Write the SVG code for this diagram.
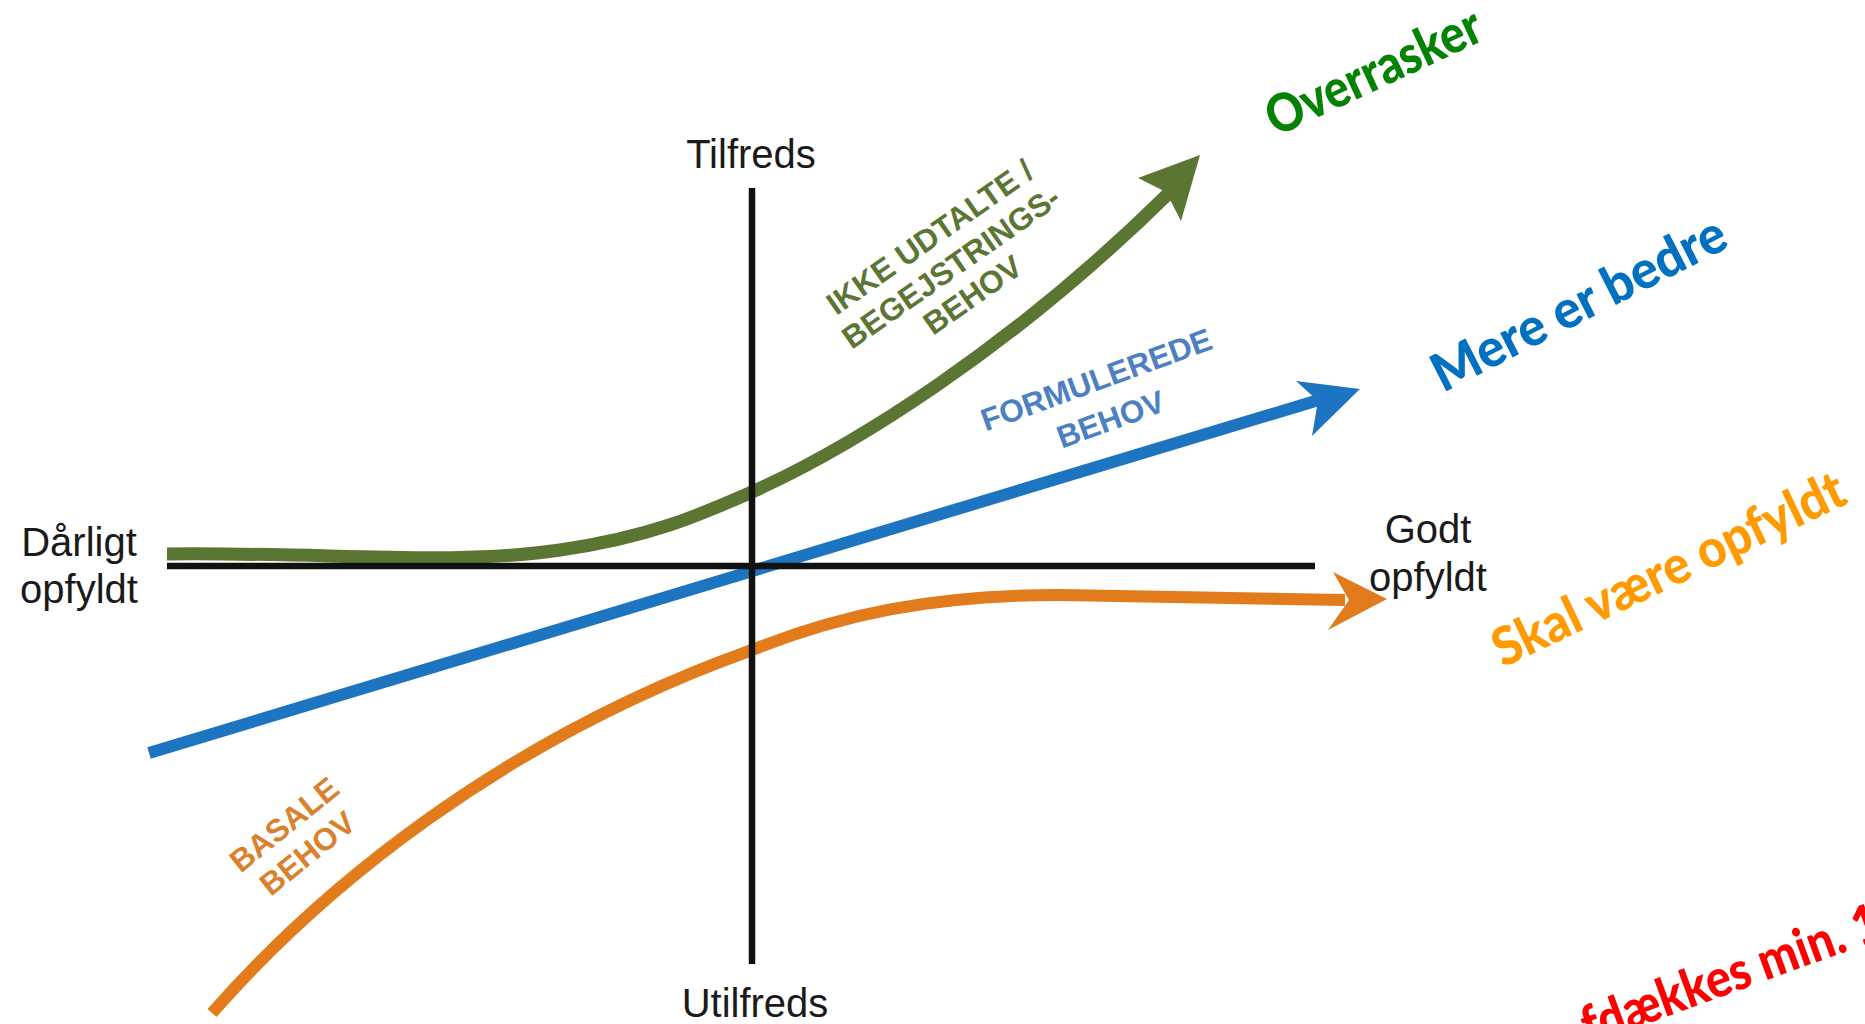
<svg xmlns="http://www.w3.org/2000/svg" width="1865" height="1024" viewBox="0 0 1865 1024">
<style>
.axis{stroke:#111;stroke-width:6.5;fill:none}
.curve{fill:none;stroke-linecap:butt}
.ax{font-family:"Liberation Sans",Arial,sans-serif;font-size:40px;fill:#1a1a1a;text-anchor:middle}
.cap{font-family:"Liberation Sans",Arial,sans-serif;font-weight:bold;font-size:31.5px;text-anchor:middle}
.big{font-family:Lato,"Open Sans",sans-serif;font-weight:900;font-size:53px}
</style>
<rect width="1865" height="1024" fill="#ffffff"/>
<g id="connectors">
  <path id="green-curve" class="curve" stroke="#5b7533" stroke-width="13" d="M167,554 C330,552 450,566 560,550 C650,537 700,515 752,492 C850,448 1010,350 1170,192"/>
  <polygon fill="#5b7533" points="1200,155 1138,178 1166,192 1181,221"/>
  <path id="blue-line" class="curve" stroke="#1d74c0" stroke-width="12" d="M149,753 L1322,399"/>
  <polygon fill="#1d74c0" points="1360,389 1296,381 1318,401 1312,436"/>
  <path id="orange-curve" class="curve" stroke="#e27b1c" stroke-width="12" d="M212,1013 C320,890 500,740 752,650 C840,615 930,595 1060,595 L1345,600"/>
  <polygon fill="#e27b1c" points="1387,599 1333,572 1349,600 1328,630"/>
</g>
<g id="axes">
  <line class="axis" x1="167" y1="566" x2="1315" y2="566"/>
  <line class="axis" x1="752" y1="188" x2="752" y2="964"/>
</g>
<g id="label-tilfreds"><text class="ax" x="751" y="168">Tilfreds</text></g>
<g id="label-utilfreds"><text class="ax" x="755" y="1017">Utilfreds</text></g>
<g id="label-daarligt"><text class="ax" x="79" y="556">Dårligt</text><text class="ax" x="79" y="603">opfyldt</text></g>
<g id="label-godt"><text class="ax" x="1428" y="543">Godt</text><text class="ax" x="1428" y="591">opfyldt</text></g>
<g id="label-ikke" transform="translate(936,246) rotate(-35)" fill="#5b7533">
  <text class="cap" x="0" y="0">IKKE UDTALTE /</text>
  <text class="cap" x="0" y="37">BEGEJSTRINGS-</text>
  <text class="cap" x="2" y="72">BEHOV</text>
</g>
<g id="label-formulerede" transform="translate(1100,390) rotate(-20)" fill="#4b80c3">
  <text class="cap" x="0" y="0">FORMULEREDE</text>
  <text class="cap" x="0" y="42">BEHOV</text>
</g>
<g id="label-basale" transform="translate(291,833) rotate(-39)" fill="#d9822e">
  <text class="cap" x="0" y="0">BASALE</text>
  <text class="cap" x="0" y="37">BEHOV</text>
</g>
<g id="note-overrasker"><text class="big" fill="#038203" transform="translate(1276,137) rotate(-25)" textLength="232" lengthAdjust="spacingAndGlyphs">Overrasker</text></g>
<g id="note-mere"><text class="big" fill="#0070c0" transform="translate(1443,393) rotate(-27)" textLength="323" lengthAdjust="spacingAndGlyphs">Mere er bedre</text></g>
<g id="note-skal"><text class="big" fill="#ff9a00" transform="translate(1503,668) rotate(-25.5)" textLength="384" lengthAdjust="spacingAndGlyphs">Skal være opfyldt</text></g>
<g id="note-red"><text class="big" fill="#ff0000" transform="translate(1589,1045) rotate(-20)" textLength="315" lengthAdjust="spacingAndGlyphs">fdækkes min. 1</text></g>
</svg>
